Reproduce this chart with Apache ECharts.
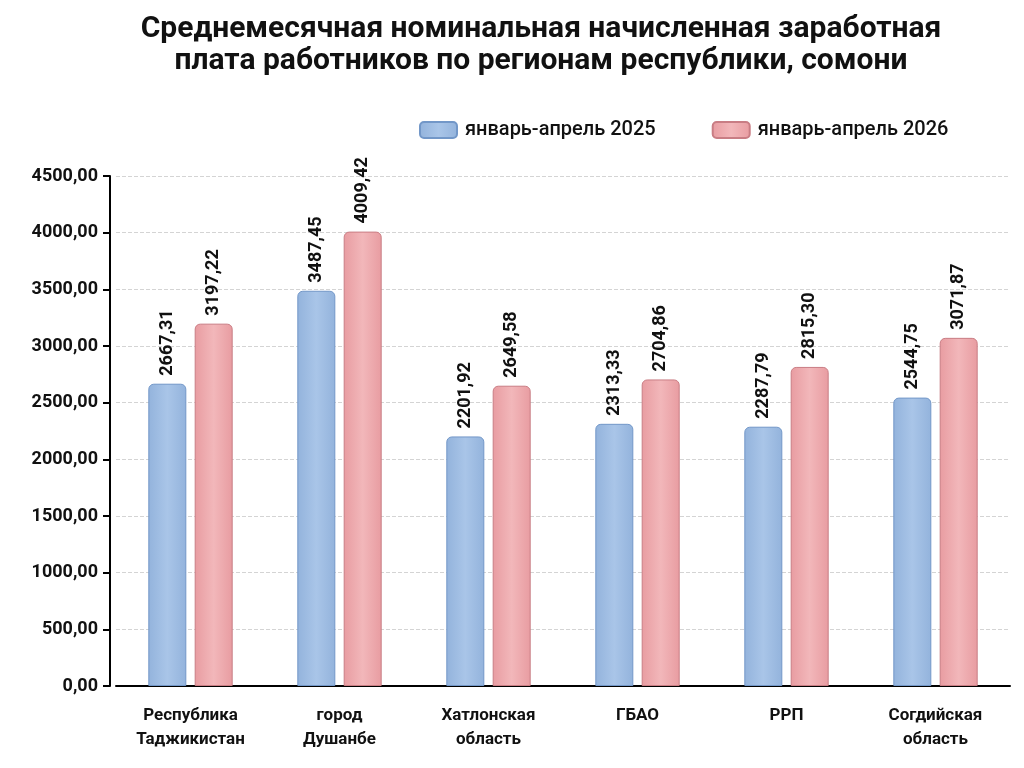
<!DOCTYPE html>
<html>
<head>
<meta charset="utf-8">
<script src="https://cdn.jsdelivr.net/npm/echarts@6/dist/echarts.min.js"></script>
<style>
  html, body { margin: 0; padding: 0; background: #fff; }
  #chart { width: 1024px; height: 768px; }
</style>
</head>
<body>
<div id="chart"></div>
<script>
// регионы
const regions = [
  'Республика\nТаджикистан',
  'город\nДушанбе',
  'Хатлонская\nобласть',
  'ГБАО',
  'РРП',
  'Согдийская\nобласть'
];
const seriesNames = ['январь-апрель 2025', 'январь-апрель 2026'];
const wage2025 = [2667.31, 3487.45, 2201.92, 2313.33, 2287.79, 2544.75];
const wage2026 = [3197.22, 4009.42, 2649.58, 2704.86, 2815.30, 3071.87];

const FONT = 'Roboto, "Liberation Sans", sans-serif';
const fmt = v => v.toFixed(2).replace('.', ',');

const blueFill = new echarts.graphic.LinearGradient(0, 0, 1, 0, [
  { offset: 0, color: '#93b3dc' },
  { offset: 0.5, color: '#a9c5e8' },
  { offset: 1, color: '#93b3dc' }
]);
const redFill = new echarts.graphic.LinearGradient(0, 0, 1, 0, [
  { offset: 0, color: '#e89ca1' },
  { offset: 0.5, color: '#f2b7ba' },
  { offset: 1, color: '#e89ca1' }
]);

const valueLabel = {
  show: true,
  position: 'top',
  rotate: 90,
  align: 'left',
  verticalAlign: 'middle',
  distance: 8,
  fontFamily: FONT,
  fontWeight: 'bold',
  fontSize: 18,
  color: '#111',
  formatter: p => fmt(p.value)
};

const chart = echarts.init(document.getElementById('chart'), null, { renderer: 'canvas' });

chart.setOption({
  animation: false,
  title: {
    text: 'Среднемесячная номинальная начисленная заработная\nплата работников по регионам республики, сомони',
    left: 536,
    top: 8,
    textAlign: 'center',
    textStyle: {
      fontFamily: FONT,
      fontWeight: 'bold',
      fontSize: 30,
      lineHeight: 32,
      color: '#111'
    }
  },
  legend: {
    data: seriesNames,
    top: 115,
    left: 414,
    itemWidth: 37,
    itemHeight: 16,
    itemGap: 56,
    textStyle: { fontFamily: FONT, fontSize: 20, fontWeight: 500, color: '#111', padding: [0, 0, 0, 3] }
  },
  grid: { left: 116, right: 14, top: 176, bottom: 82, containLabel: false },
  xAxis: {
    type: 'category',
    data: regions,
    axisLine: { lineStyle: { color: '#000', width: 2 } },
    axisTick: { show: false },
    axisLabel: {
      fontFamily: FONT,
      fontWeight: 'bold',
      fontSize: 17,
      lineHeight: 24,
      color: '#111',
      margin: 18,
      interval: 0
    }
  },
  yAxis: {
    type: 'value',
    min: 0,
    max: 4500,
    interval: 500,
    offset: 6,
    axisLine: { show: true, lineStyle: { color: '#000', width: 2 } },
    axisTick: { show: true, length: 7, lineStyle: { color: '#000', width: 2 } },
    axisLabel: {
      fontFamily: FONT,
      fontWeight: 'bold',
      fontSize: 18,
      color: '#111',
      margin: 12,
      formatter: v => fmt(v)
    },
    splitLine: { lineStyle: { color: '#d4d4d4', type: 'dashed', width: 1 } }
  },
  series: [
    {
      name: seriesNames[0],
      type: 'bar',
      data: wage2025,
      barWidth: 38,
      barGap: '22%',
      itemStyle: { color: blueFill, borderColor: '#7297c8', borderWidth: 1, borderRadius: [5, 5, 0, 0] },
      label: valueLabel
    },
    {
      name: seriesNames[1],
      type: 'bar',
      data: wage2026,
      barWidth: 38,
      itemStyle: { color: redFill, borderColor: '#c97d84', borderWidth: 1, borderRadius: [5, 5, 0, 0] },
      label: valueLabel
    }
  ]
});
</script>
</body>
</html>
